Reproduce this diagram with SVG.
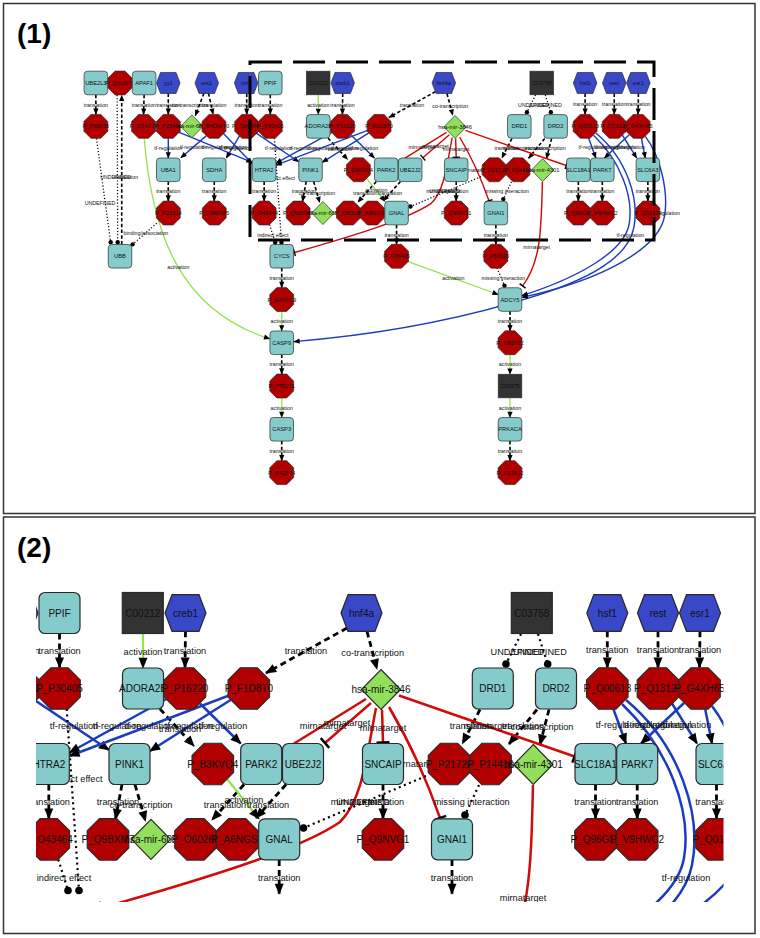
<svg xmlns="http://www.w3.org/2000/svg" width="760" height="938" viewBox="0 0 760 938">
<style>
.frame{fill:none;stroke:#333;stroke-width:1.5}
.title{font-family:"Liberation Sans",Arial,sans-serif;font-weight:bold;font-size:28px;fill:#000}
.sel{fill:none;stroke:#000;stroke-width:3;stroke-dasharray:32 11}
.node use{stroke:#2a2a2a;stroke-width:1.2}
.gene use{fill:#86cbcb}
.prot use{fill:#b20000}
.tf use{fill:#3848c9}
.mir use{fill:#92df5b}
.cpd use{fill:#333}
.node text{font-family:"Liberation Sans",Arial,sans-serif;font-size:10px;fill:#111;text-anchor:middle}
.e{fill:none}
.tr{stroke:#000;stroke-width:2.8;stroke-dasharray:6 4;marker-end:url(#arr)}
.act{stroke:#94e24c;stroke-width:2.2;marker-end:url(#arr)}
.tfr{stroke:#1c3cbf;stroke-width:2.5;marker-end:url(#arr)}
.mi{stroke:#d10a0a;stroke-width:2.5;marker-end:url(#tee)}
.dt{stroke:#000;stroke-width:2.2;stroke-dasharray:2 3.5;marker-end:url(#dot)}
.el{font-family:"Liberation Sans",Arial,sans-serif;font-size:9.2px;fill:#111;text-anchor:middle}
</style>
<defs>
<marker id="arr" markerUnits="userSpaceOnUse" markerWidth="12" markerHeight="10" refX="10" refY="5" orient="auto" overflow="visible"><path d="M0,0.5 L11,5 L0,9.5 z" fill="#000"/></marker>
<marker id="tee" markerUnits="userSpaceOnUse" markerWidth="4" markerHeight="13" refX="1" refY="6.5" orient="auto" overflow="visible"><path d="M1,0 V13" stroke="#000" stroke-width="2.4" fill="none"/></marker>
<marker id="dot" markerUnits="userSpaceOnUse" markerWidth="9" markerHeight="9" refX="4.5" refY="4.5" overflow="visible"><circle cx="4.5" cy="4.5" r="3.8" fill="#000"/></marker>
<rect id="box" x="-20.5" y="-20.5" width="41" height="41" rx="6"/>
<rect id="sq" x="-20.5" y="-20.5" width="41" height="41"/>
<polygon id="oct" points="-8.6,-20.75 8.6,-20.75 20.75,-8.6 20.75,8.6 8.6,20.75 -8.6,20.75 -20.75,8.6 -20.75,-8.6"/>
<polygon id="hex" points="-20.5,0 -13.5,-18.3 13.5,-18.3 20.5,0 13.5,18.3 -13.5,18.3"/>
<polygon id="dia" points="0,-20 19.5,0 0,20 -19.5,0"/>
<clipPath id="clip2"><rect x="36" y="520" width="687.5" height="382"/></clipPath>
</defs>
<rect width="760" height="938" fill="#fff"/>
<rect class="frame" x="3.5" y="3.5" width="751.5" height="510"/>
<rect class="frame" x="3.5" y="517" width="751.5" height="416.5"/>
<text class="title" x="17" y="42.5">(1)</text>
<text class="title" x="17" y="557">(2)</text>

<g id="panel1" transform="matrix(0.574713 0 0 0.574713 236.092 -269.310)">
<g id="graph">
<g id="edges">
<path class="e tr" d="M-244,633.5 V667.5"/>
<path class="e tr" d="M-160,633.5 L-161,667.5"/>
<path class="e tr" d="M-118,631.3 V667.5"/>
<path class="e tr" d="M-48,631 L-40,667.5"/>
<path class="e tr" d="M-56,631 L-71,670"/>
<path class="e tr" d="M18.5,631.3 V667.5"/>
<path class="e tr" d="M59.5,633.5 V667.5"/>
<path class="e tr" d="M185.5,631.3 L185,667.5"/>
<path class="e tr" d="M347,628 L266,673"/>
<path class="e tr" d="M367,631.5 L377,669"/>
<path class="e tr" d="M607.3,631.3 V667.5"/>
<path class="e tr" d="M658,631.3 V667.5"/>
<path class="e tr" d="M700,631.3 L699.5,667.5"/>
<path class="e tr" d="M160,709 L194,746"/>
<path class="e tr" d="M480,709.5 L462.5,743.5"/>
<path class="e tr" d="M537,709.5 L509,744"/>
<path class="e tr" d="M549,709.5 L540,744.5"/>
<path class="e tr" d="M-118,784.5 V818.5"/>
<path class="e tr" d="M-38,784.5 V818.5"/>
<path class="e tr" d="M48.8,784.5 V818.5"/>
<path class="e tr" d="M122,784.5 L115.5,819"/>
<path class="e tr" d="M135,784.5 L145.5,821"/>
<path class="e tr" d="M244,784.5 L212,820"/>
<path class="e tr" d="M286,784.5 L256,818"/>
<path class="e tr" d="M383,784.5 V818.5"/>
<path class="e tr" d="M595.5,784.5 V818.5"/>
<path class="e tr" d="M637.2,784.5 V818.5"/>
<path class="e tr" d="M716.5,784.5 V818.5"/>
<path class="e tr" d="M279.2,860 V893.7"/>
<path class="e tr" d="M452,860 V893.7"/>
<path class="e tr" d="M-199,894 V634.5"/>
<path class="e tr" d="M79.4,935 V969"/>
<path class="e tr" d="M79.4,1085.5 V1119.5"/>
<path class="e tr" d="M79.4,1236.1 V1270.2"/>
<path class="e tr" d="M476.6,1010.3 V1044.2"/>
<path class="e tr" d="M476.6,1236.1 V1270.2"/>
<path class="e act" d="M143,633.5 V667.8"/>
<path class="e act" d="M227,779 L259,818.8"/>
<path class="e act" d="M79.4,1010.5 V1044.5"/>
<path class="e act" d="M79.4,1161 V1195"/>
<path class="e act" d="M476.6,1085.7 V1119.8"/>
<path class="e act" d="M476.6,1160.8 V1195.1"/>
<path class="e act" d="M297,923 L456,981"/>
<path class="e act" d="M-160,708 C-146,880 -95,1010 58.5,1058"/>
<path class="e tfr" d="M-118,709.3 V743.5"/>
<path class="e tfr" d="M-52,705 L-96,743"/>
<path class="e tfr" d="M-101,698 L28,751"/>
<path class="e tfr" d="M-22,701 L28,753"/>
<path class="e tfr" d="M6,705 L-17,743.5"/>
<path class="e tfr" d="M33,699 L109,750"/>
<path class="e tfr" d="M170,697 L69.5,752.5"/>
<path class="e tfr" d="M229,695.5 L69.5,756"/>
<path class="e tfr" d="M231,699.7 L150,751"/>
<path class="e tfr" d="M200,703.5 L240.7,743.5"/>
<path class="e tfr" d="M613,708 L626,743.5"/>
<path class="e tfr" d="M684,703 L641,743.5"/>
<path class="e tfr" d="M672,703.5 L697,743.5"/>
<path class="e tfr" d="M705,708 L712,743.5"/>
<path class="e tfr" d="M622,704 C668,748 692,810 684,858 C676,905 600,950 497.5,983"/>
<path class="e tfr" d="M626,700 C680,745 702,815 692,865 C682,915 620,955 500,990 C350,1035 200,1055 100.5,1063"/>
<path class="e tfr" d="M712,706 C738,740 752,800 746,842 C738,900 640,955 497.5,986"/>
<path class="e mi" d="M366,699 L282,751"/>
<path class="e mi" d="M371,703 L325,743"/>
<path class="e mi" d="M382,709.5 L383,742.5"/>
<path class="e mi" d="M376,708 C366,760 362,800 340,822 C300,850 200,880 101.5,908"/>
<path class="e mi" d="M389,707 Q420,760 440,818"/>
<path class="e mi" d="M399,695.5 L574.5,756.5"/>
<path class="e mi" d="M533,785 C531,870 530,925 498.5,966"/>
<path class="e dt" d="M521,634 L506,664"/>
<path class="e dt" d="M538,634 L547.7,664"/>
<path class="e dt" d="M-243,709.5 L-218.2,890.2"/>
<path class="e dt" d="M-207,634 L-206,890.2"/>
<path class="e dt" d="M-138,857 L-180,893.7"/>
<path class="e dt" d="M66.7,709 L79,890.5"/>
<path class="e dt" d="M58.3,859.5 L68,890.5"/>
<path class="e dt" d="M479,785 L465,815"/>
<path class="e dt" d="M426,776 L303.5,828"/>
<path class="e dt" d="M454,935 L467,965.5"/>
</g>
<g id="edge-labels">
<text class="el" x="-244" y="654.2">translation</text>
<text class="el" x="-160.5" y="654.2">translation</text>
<text class="el" x="-118" y="654.2">translation</text>
<text class="el" x="-38" y="654.2">translation</text>
<text class="el" x="18.5" y="654.2">translation</text>
<text class="el" x="59.5" y="654.2">translation</text>
<text class="el" x="185" y="654.2">translation</text>
<text class="el" x="306" y="654.2">translation</text>
<text class="el" x="607.3" y="653.2">translation</text>
<text class="el" x="658" y="653.2">translation</text>
<text class="el" x="700" y="653.2">translation</text>
<text class="el" x="180" y="732.2">translation</text>
<text class="el" x="471" y="729.2">translation</text>
<text class="el" x="523" y="729.2">translation</text>
<text class="el" x="-118" y="805.2">translation</text>
<text class="el" x="-38" y="805.2">translation</text>
<text class="el" x="48.8" y="805.2">translation</text>
<text class="el" x="118" y="805.2">translation</text>
<text class="el" x="225" y="808.2">translation</text>
<text class="el" x="268" y="808.2">translation</text>
<text class="el" x="383" y="805.2">translation</text>
<text class="el" x="595.5" y="805.2">translation</text>
<text class="el" x="637.2" y="805.2">translation</text>
<text class="el" x="716.5" y="805.2">translation</text>
<text class="el" x="279.2" y="881.2">translation</text>
<text class="el" x="452" y="881.2">translation</text>
<text class="el" x="-191.6" y="779.2">translation</text>
<text class="el" x="79.4" y="955.2">translation</text>
<text class="el" x="79.4" y="1105.8">translation</text>
<text class="el" x="79.4" y="1256.5">translation</text>
<text class="el" x="476.6" y="1030.6">translation</text>
<text class="el" x="476.6" y="1256.5">translation</text>
<text class="el" x="-80" y="654.2">co-transcription</text>
<text class="el" x="372.7" y="655.7">co-transcription</text>
<text class="el" x="542" y="729.7">co-transcription</text>
<text class="el" x="141" y="808.2">co-transcription</text>
<text class="el" x="143" y="654.7">activation</text>
<text class="el" x="244" y="803.2">activation</text>
<text class="el" x="79.4" y="1030.6">activation</text>
<text class="el" x="79.4" y="1181.2">activation</text>
<text class="el" x="476.6" y="1105.8">activation</text>
<text class="el" x="476.6" y="1181.2">activation</text>
<text class="el" x="378" y="956.2">activation</text>
<text class="el" x="-100.5" y="935.9">activation</text>
<text class="el" x="-118" y="729.2">tf-regulation</text>
<text class="el" x="-74" y="727.2">tf-regulation</text>
<text class="el" x="-36" y="728.2">tf-regulation</text>
<text class="el" x="3" y="730.2">tf-regulation</text>
<text class="el" x="-5" y="727.2">tf-regulation</text>
<text class="el" x="74" y="729.2">tf-regulation</text>
<text class="el" x="117" y="729.2">tf-regulation</text>
<text class="el" x="149" y="729.2">tf-regulation</text>
<text class="el" x="189" y="729.2">tf-regulation</text>
<text class="el" x="223" y="729.2">tf-regulation</text>
<text class="el" x="620" y="728.2">tf-regulation</text>
<text class="el" x="648" y="728.2">tf-regulation</text>
<text class="el" x="668" y="728.2">tf-regulation</text>
<text class="el" x="687" y="728.2">tf-regulation</text>
<text class="el" x="686" y="881.2">tf-regulation</text>
<text class="el" x="748" y="843.2">tf-regulation</text>
<text class="el" x="323" y="728.7">mirnatarget</text>
<text class="el" x="347" y="726.2">mirnatarget</text>
<text class="el" x="383" y="730.7">mirnatarget</text>
<text class="el" x="354" y="805.2">mirnatarget</text>
<text class="el" x="416" y="767.2">mirnatarget</text>
<text class="el" x="486.7" y="729.2">mirnatarget</text>
<text class="el" x="523" y="901.2">mirnatarget</text>
<text class="el" x="517.4" y="655.2">UNDEFINED</text>
<text class="el" x="540" y="655.2">UNDEFINED</text>
<text class="el" x="-236.8" y="824.5">UNDEFINED</text>
<text class="el" x="-209.8" y="779.2">UNDEFINED</text>
<text class="el" x="363" y="805.2">UNDEFINED</text>
<text class="el" x="-157" y="877.7">binding/association</text>
<text class="el" x="75.4" y="782.2">indirect effect</text>
<text class="el" x="64" y="881.2">indirect effect</text>
<text class="el" x="471.7" y="804.9">missing interaction</text>
<text class="el" x="465" y="956.2">missing interaction</text>
</g>
<g id="nodes">
<g id="nodes-top">
<g id="n-UBE2L3" class="node gene" transform="translate(-244,613)"><use href="#box"/><text y="3.6">UBE2L3</text></g>
<g id="n-P_Q5U5U6" class="node prot" transform="translate(-202,613)"><use href="#oct"/><text y="3.6">P_Q5U5U6</text></g>
<g id="n-APAF1" class="node gene" transform="translate(-160,613)"><use href="#box"/><text y="3.6">APAF1</text></g>
<g id="n-yy1" class="node tf" transform="translate(-118,613)"><use href="#hex"/><text y="3.6">yy1</text></g>
<g id="n-ets1" class="node tf" transform="translate(-51,613)"><use href="#hex"/><text y="3.6">ets1</text></g>
<g id="n-nrf1" class="node tf" transform="translate(17.5,613)"><use href="#hex"/><text y="3.6">nrf1</text></g>
<g id="n-PPIF" class="node gene" transform="translate(59.5,613)"><use href="#box"/><text y="3.6">PPIF</text></g>
<g id="n-C00212" class="node cpd" transform="translate(142.8,613)"><use href="#sq"/><text y="3.6">C00212</text></g>
<g id="n-creb1" class="node tf" transform="translate(185.5,613)"><use href="#hex"/><text y="3.6">creb1</text></g>
<g id="n-hnf4a" class="node tf" transform="translate(361.5,613)"><use href="#hex"/><text y="3.6">hnf4a</text></g>
<g id="n-C03758" class="node cpd" transform="translate(531.8,613)"><use href="#sq"/><text y="3.6">C03758</text></g>
<g id="n-hsf1" class="node tf" transform="translate(607.3,613)"><use href="#hex"/><text y="3.6">hsf1</text></g>
<g id="n-rest" class="node tf" transform="translate(658,613)"><use href="#hex"/><text y="3.6">rest</text></g>
<g id="n-esr1" class="node tf" transform="translate(700,613)"><use href="#hex"/><text y="3.6">esr1</text></g>

<g id="n-P_P68036" class="node prot" transform="translate(-244,688.5)"><use href="#oct"/><text y="3.6">P_P68036</text></g>
<g id="n-P_O14727" class="node prot" transform="translate(-161,688.5)"><use href="#oct"/><text y="3.6">P_O14727</text></g>
<g id="n-P_P25490" class="node prot" transform="translate(-118,688.5)"><use href="#oct"/><text y="3.6">P_P25490</text></g>
<g id="n-hsa-mir-6833" class="node mir" transform="translate(-77,688.5)"><use href="#dia"/><text y="3.6">hsa-mir-6833</text></g>
<g id="n-P_B4DWT0" class="node prot" transform="translate(-38.5,688.5)"><use href="#oct"/><text y="3.6">P_B4DWT0</text></g>
<g id="n-P_Q96ANF" class="node prot" transform="translate(18.5,688.5)"><use href="#oct"/><text y="3.6">P_Q96ANF</text></g>
<g id="n-P_P30405" class="node prot" transform="translate(59.5,688.5)"><use href="#oct"/><text y="3.6">P_P30405</text></g>
<g id="n-ADORA2B" class="node gene" transform="translate(143,688.5)"><use href="#box"/><text y="3.6">ADORA2B</text></g>
<g id="n-P_P16220" class="node prot" transform="translate(185,688.5)"><use href="#oct"/><text y="3.6">P_P16220</text></g>
<g id="n-P_F1D8T0" class="node prot" transform="translate(248.8,688.5)"><use href="#oct"/><text y="3.6">P_F1D8T0</text></g>
<g id="n-hsa-mir-3846" class="node mir" transform="translate(381,689.5)"><use href="#dia"/><text y="3.6">hsa-mir-3846</text></g>
<g id="n-DRD1" class="node gene" transform="translate(492.8,688.5)"><use href="#box"/><text y="3.6">DRD1</text></g>
<g id="n-DRD2" class="node gene" transform="translate(556,688.5)"><use href="#box"/><text y="3.6">DRD2</text></g>
<g id="n-P_Q00613" class="node prot" transform="translate(607.3,688.5)"><use href="#oct"/><text y="3.6">P_Q00613</text></g>
<g id="n-P_Q13127" class="node prot" transform="translate(658,688.5)"><use href="#oct"/><text y="3.6">P_Q13127</text></g>
<g id="n-P_G4XH65" class="node prot" transform="translate(699.5,688.5)"><use href="#oct"/><text y="3.6">P_G4XH65</text></g>

<g id="n-UBA1" class="node gene" transform="translate(-118,764)"><use href="#box"/><text y="3.6">UBA1</text></g>
<g id="n-SDHA" class="node gene" transform="translate(-38,764)"><use href="#box"/><text y="3.6">SDHA</text></g>
<g id="n-HTRA2" class="node gene" transform="translate(48.8,764)"><use href="#box"/><text y="3.6">HTRA2</text></g>
<g id="n-PINK1" class="node gene" transform="translate(129.5,764)"><use href="#box"/><text y="3.6">PINK1</text></g>
<g id="n-P_B3KVQ4" class="node prot" transform="translate(212.8,764)"><use href="#oct"/><text y="3.6">P_B3KVQ4</text></g>
<g id="n-PARK2" class="node gene" transform="translate(261.2,764)"><use href="#box"/><text y="3.6">PARK2</text></g>
<g id="n-UBE2J2" class="node gene" transform="translate(303,764)"><use href="#box"/><text y="3.6">UBE2J2</text></g>
<g id="n-SNCAIP" class="node gene" transform="translate(383,764)"><use href="#box"/><text y="3.6">SNCAIP</text></g>
<g id="n-P_P21728" class="node prot" transform="translate(449,764)"><use href="#oct"/><text y="3.6">P_P21728</text></g>
<g id="n-P_P14416" class="node prot" transform="translate(490.5,764)"><use href="#oct"/><text y="3.6">P_P14416</text></g>
<g id="n-hsa-mir-4301" class="node mir" transform="translate(533.3,764.5)"><use href="#dia"/><text y="3.6">hsa-mir-4301</text></g>
<g id="n-SLC18A1" class="node gene" transform="translate(595.5,764)"><use href="#box"/><text y="3.6">SLC18A1</text></g>
<g id="n-PARK7" class="node gene" transform="translate(637.2,764)"><use href="#box"/><text y="3.6">PARK7</text></g>
<g id="n-SLC6A3" class="node gene" transform="translate(716.5,764)"><use href="#box"/><text y="3.6">SLC6A3</text></g>

<g id="n-P_P22314" class="node prot" transform="translate(-118,839.3)"><use href="#oct"/><text y="3.6">P_P22314</text></g>
<g id="n-P_D6RFM5" class="node prot" transform="translate(-38,839.3)"><use href="#oct"/><text y="3.6">P_D6RFM5</text></g>
<g id="n-P_O43464" class="node prot" transform="translate(48.8,839.3)"><use href="#oct"/><text y="3.6">P_O43464</text></g>
<g id="n-P_Q9BXM7" class="node prot" transform="translate(108,839.3)"><use href="#oct"/><text y="3.6">P_Q9BXM7</text></g>
<g id="n-hsa-mir-605" class="node mir" transform="translate(151,839.3)"><use href="#dia"/><text y="3.6">hsa-mir-605</text></g>
<g id="n-P_O60260" class="node prot" transform="translate(195.5,839.3)"><use href="#oct"/><text y="3.6">P_O60260</text></g>
<g id="n-P_A6NGS4" class="node prot" transform="translate(237.2,839.3)"><use href="#oct"/><text y="3.6">P_A6NGS4</text></g>
<g id="n-GNAL" class="node gene" transform="translate(279.2,839.3)"><use href="#box"/><text y="3.6">GNAL</text></g>
<g id="n-P_Q9NVG1" class="node prot" transform="translate(383,839.3)"><use href="#oct"/><text y="3.6">P_Q9NVG1</text></g>
<g id="n-GNAI1" class="node gene" transform="translate(452,839.3)"><use href="#box"/><text y="3.6">GNAI1</text></g>
<g id="n-P_Q96GL6" class="node prot" transform="translate(595.5,839.3)"><use href="#oct"/><text y="3.6">P_Q96GL6</text></g>
<g id="n-P_V9HWC2" class="node prot" transform="translate(637.2,839.3)"><use href="#oct"/><text y="3.6">P_V9HWC2</text></g>
<g id="n-P_Q01959" class="node prot" transform="translate(716.5,839.3)"><use href="#oct"/><text y="3.6">P_Q01959</text></g>
</g>
<g id="nodes-bottom">
<g id="n-UBB" class="node gene" transform="translate(-202,914.5)"><use href="#box"/><text y="3.6">UBB</text></g>
<g id="n-CYCS" class="node gene" transform="translate(79.4,914.5)"><use href="#box"/><text y="3.6">CYCS</text></g>
<g id="n-P_P38405" class="node prot" transform="translate(279.2,914.5)"><use href="#oct"/><text y="3.6">P_P38405</text></g>
<g id="n-P_P63096" class="node prot" transform="translate(452,914.5)"><use href="#oct"/><text y="3.6">P_P63096</text></g>
<g id="n-P_G4XXL9" class="node prot" transform="translate(79.4,989.8)"><use href="#oct"/><text y="3.6">P_G4XXL9</text></g>
<g id="n-ADCY5" class="node gene" transform="translate(476.6,989.8)"><use href="#box"/><text y="3.6">ADCY5</text></g>
<g id="n-CASP9" class="node gene" transform="translate(79.4,1065)"><use href="#box"/><text y="3.6">CASP9</text></g>
<g id="n-P_O95622" class="node prot" transform="translate(476.6,1065)"><use href="#oct"/><text y="3.6">P_O95622</text></g>
<g id="n-P_P55211" class="node prot" transform="translate(79.4,1140.3)"><use href="#oct"/><text y="3.6">P_P55211</text></g>
<g id="n-C00575" class="node cpd" transform="translate(476.6,1140.3)"><use href="#sq"/><text y="3.6">C00575</text></g>
<g id="n-CASP3" class="node gene" transform="translate(79.4,1215.6)"><use href="#box"/><text y="3.6">CASP3</text></g>
<g id="n-PRKACA" class="node gene" transform="translate(476.6,1215.6)"><use href="#box"/><text y="3.6">PRKACA</text></g>
<g id="n-P_P42574" class="node prot" transform="translate(79.4,1291)"><use href="#oct"/><text y="3.6">P_P42574</text></g>
<g id="n-P_P17612" class="node prot" transform="translate(476.6,1291)"><use href="#oct"/><text y="3.6">P_P17612</text></g>
</g>
</g>
</g>
</g>
<rect class="sel" x="250" y="62" width="404" height="178"/>
<g id="panel2" clip-path="url(#clip2)"><use href="#edges"/><use href="#edge-labels"/><use href="#nodes-top"/></g>
</svg>
